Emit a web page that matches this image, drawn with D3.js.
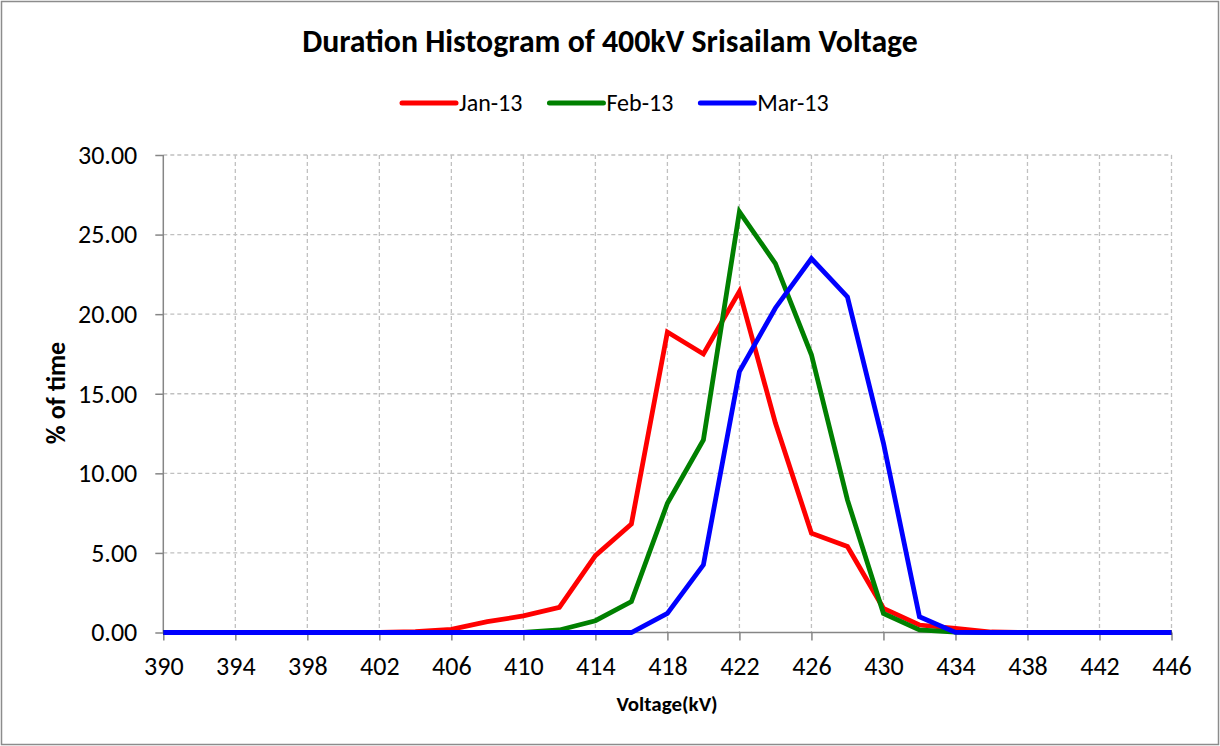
<!DOCTYPE html>
<html>
<head>
<meta charset="utf-8">
<script src="https://cdn.jsdelivr.net/npm/d3@7"></script>
<style>
  body { margin: 0; background: #fff; }
  svg { display: block; }
</style>
</head>
<body>
<div id="chart"></div>
<script>
// Daten
var voltages = [390, 392, 394, 396, 398, 400, 402, 404, 406, 408, 410, 412, 414, 416, 418,
                420, 422, 424, 426, 428, 430, 432, 434, 436, 438, 440, 442, 444, 446]
var jan13 = [0, 0, 0, 0, 0, 0, 0, 0.05, 0.2, 0.68, 1.04, 1.58, 4.83, 6.82, 18.88,
             17.5, 21.43, 13.16, 6.24, 5.4, 1.52, 0.47, 0.26, 0.03, 0, 0, 0, 0, 0]
var feb13 = [0, 0, 0, 0, 0, 0, 0, 0, 0, 0, 0, 0.16, 0.74, 1.94, 8.12,
             12.1, 26.43, 23.18, 17.45, 8.33, 1.2, 0.16, 0.02, 0, 0, 0, 0, 0, 0]
var mar13 = [0, 0, 0, 0, 0, 0, 0, 0, 0, 0, 0, 0, 0, 0, 1.2,
             4.25, 16.4, 20.39, 23.49, 21.08, 11.9, 0.99, 0.01, 0, 0, 0, 0, 0, 0]
var seriesNames = ["Jan-13", "Feb-13", "Mar-13"]
var xTicks = [390, 394, 398, 402, 406, 410, 414, 418, 422, 426, 430, 434, 438, 442, 446]
var yTicks = [0, 5, 10, 15, 20, 25, 30]

var colors = ["#ff0000", "#008000", "#0000ff"]
var font = "Carlito, Calibri, 'Open Sans', sans-serif"

var width = 1220
var height = 746
var margin = { top: 155, right: 48.5, bottom: 113.5, left: 163.3 }
var plotW = width - margin.left - margin.right
var plotH = height - margin.top - margin.bottom

var svg = d3.select("#chart").append("svg")
  .attr("width", width)
  .attr("height", height)

// Rahmen
svg.append("rect")
  .attr("x", 1.5).attr("y", 1.5)
  .attr("width", width - 3).attr("height", height - 3)
  .attr("fill", "#fff")
  .attr("stroke", "#8c8c8c")
  .attr("stroke-width", 1.5)

var x = d3.scaleLinear().domain([390, 446]).range([0, plotW])
var y = d3.scaleLinear().domain([0, 30]).range([plotH, 0])

var g = svg.append("g").attr("transform", "translate(" + margin.left + "," + margin.top + ")")

// Gitterlinien
g.selectAll(".vgrid")
  .data(xTicks.slice(1))
  .enter().append("line")
    .attr("x1", function(d){ return x(d) }).attr("x2", function(d){ return x(d) })
    .attr("y1", 0).attr("y2", plotH)
    .attr("stroke", "#c0c0c0")
    .attr("stroke-width", 1.3)
    .style("stroke-dasharray", "4,3")

g.selectAll(".hgrid")
  .data(yTicks.slice(1))
  .enter().append("line")
    .attr("x1", 0).attr("x2", plotW)
    .attr("y1", function(d){ return y(d) }).attr("y2", function(d){ return y(d) })
    .attr("stroke", "#c0c0c0")
    .attr("stroke-width", 1.3)
    .style("stroke-dasharray", "4,3")

// Achsen
var xAxis = d3.axisBottom(x).tickValues(xTicks).tickSize(8).tickPadding(16).tickFormat(d3.format("d"))
var yAxis = d3.axisLeft(y).tickValues(yTicks).tickSize(8).tickPadding(18).tickFormat(d3.format(".2f"))

var gx = g.append("g").attr("transform", "translate(0," + plotH + ")").call(xAxis)
var gy = g.append("g").call(yAxis)

;[gx, gy].forEach(function(a){
  a.select(".domain").attr("stroke", "#868686").attr("stroke-width", 1.5)
  a.selectAll(".tick line").attr("stroke", "#868686").attr("stroke-width", 1.5)
  a.selectAll("text").style("font-family", font).style("font-size", "26px").attr("fill", "#000")
})
gx.select(".domain").attr("d", "M0,0H" + plotW)
gy.select(".domain").attr("d", "M0," + plotH + "V0")

// Linien
var allSeries = [jan13, feb13, mar13]
var line = d3.line()
  .x(function(d, i){ return x(voltages[i]) })
  .y(function(d){ return y(d) })

g.selectAll(".series")
  .data(allSeries)
  .enter().append("path")
    .attr("fill", "none")
    .attr("stroke", function(d, i){ return colors[i] })
    .attr("stroke-width", 4.8)
    .attr("stroke-linejoin", "miter")
    .attr("d", line)

// Titel
svg.append("text")
  .attr("x", 610).attr("y", 52)
  .attr("text-anchor", "middle")
  .style("font-family", font).style("font-size", "31.8px").style("font-weight", "bold")
  .text("Duration Histogram of 400kV Srisailam Voltage")

// Achsentitel
svg.append("text")
  .attr("x", 667).attr("y", 711)
  .attr("text-anchor", "middle")
  .style("font-family", font).style("font-size", "21px").style("font-weight", "bold")
  .text("Voltage(kV)")

svg.append("text")
  .attr("transform", "translate(65,393) rotate(-90)")
  .attr("text-anchor", "middle")
  .style("font-family", font).style("font-size", "26px").style("font-weight", "bold")
  .text("% of time")

// Legende
var legend = svg.append("g")
var lx = 402
seriesNames.forEach(function(name, i){
  var item = legend.append("g").attr("transform", "translate(" + lx + ",103)")
  item.append("line")
    .attr("x1", 0).attr("x2", 54).attr("y1", 0).attr("y2", 0)
    .attr("stroke", colors[i]).attr("stroke-width", 5).attr("stroke-linecap", "round")
  var t = item.append("text")
    .attr("x", 57).attr("y", 0).attr("dy", "0.33em")
    .style("font-family", font).style("font-size", "24px")
    .text(name)
  lx += 57 + t.node().getComputedTextLength() + 27
})
</script>
</body>
</html>
